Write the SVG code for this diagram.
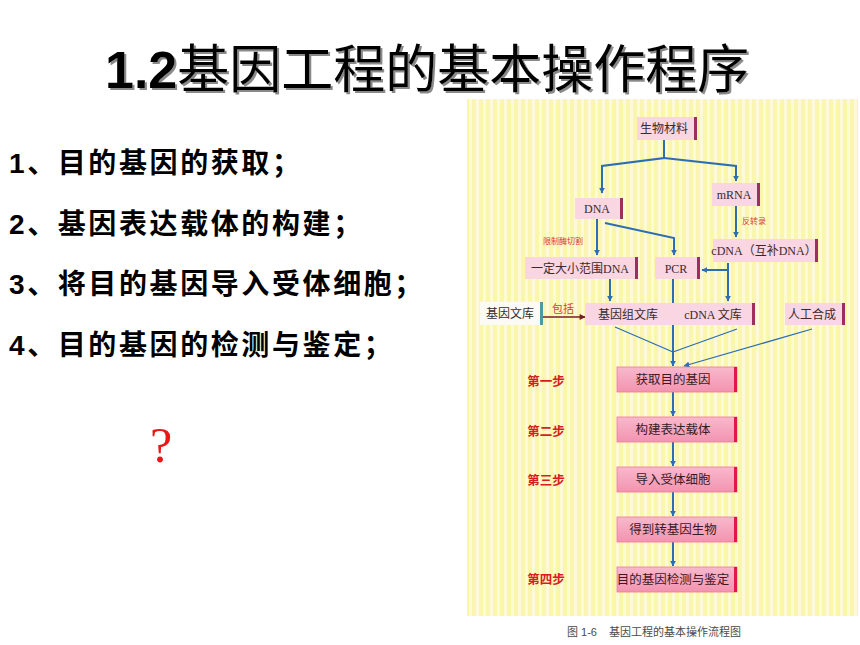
<svg xmlns="http://www.w3.org/2000/svg" width="860" height="645" viewBox="0 0 860 645">
<defs>
<pattern id="stripes" x="0" y="0" width="7" height="10" patternUnits="userSpaceOnUse">
<rect width="7" height="10" fill="#fbf6ad"/>
<rect x="0" width="3" height="10" fill="#fdfad6"/>
</pattern>
<linearGradient id="stepg" x1="0" y1="0" x2="0" y2="1">
<stop offset="0" stop-color="#f8b9cc"/>
<stop offset="1" stop-color="#f393b0"/>
</linearGradient>
<filter id="shadow" x="-5%" y="-20%" width="110%" height="140%">
<feDropShadow dx="2" dy="2" stdDeviation="0.6" flood-color="#8a8a8a" flood-opacity="1"/>
</filter>
<marker id="ab" viewBox="0 0 10 10" refX="9" refY="5" markerWidth="6" markerHeight="6" orient="auto" markerUnits="userSpaceOnUse">
<path d="M0,0 L10,5 L0,10 Z" fill="#2d6db4"/>
</marker>
<marker id="ar" viewBox="0 0 10 10" refX="9" refY="5" markerWidth="7" markerHeight="6" orient="auto" markerUnits="userSpaceOnUse">
<path d="M0,0 L10,5 L0,10 Z" fill="#7a1c22"/>
</marker>
</defs>
<style>
.title{font-family:"Liberation Sans","Noto Sans CJK SC",sans-serif;font-size:52px;fill:#000}
.item{font-family:"Liberation Sans","Noto Sans CJK SC",sans-serif;font-size:28px;font-weight:bold;fill:#000;letter-spacing:2.6px}
.q{font-family:"Liberation Serif",serif;font-size:50px;fill:#e81818}
.box{fill:#f9d6e1}
.bar{fill:#9c2f5e}
.step{fill:url(#stepg);stroke:#ee7a98;stroke-width:0.8}
.sbar{fill:#e3184a}
.bt{font-family:"Liberation Serif","Noto Sans CJK SC",serif;font-size:12px;fill:#3a2a2e;text-anchor:middle}
.st{font-family:"Liberation Serif","Noto Sans CJK SC",serif;font-size:12.5px;fill:#3a1a22;text-anchor:middle}
.lab{font-family:"Noto Sans CJK SC",sans-serif;font-size:12.5px;font-weight:bold;fill:#d91c22;text-anchor:middle}
.red{font-family:"Noto Sans CJK SC",sans-serif;fill:#e0383a}
.ln{fill:none;stroke:#2d6db4;stroke-width:2}
.thin{fill:none;stroke:#2d6db4;stroke-width:1.3}
.cap{font-family:"Liberation Sans","Noto Sans CJK SC",sans-serif;font-size:11px;fill:#4a4a4a}
</style>
<rect width="860" height="645" fill="#fff"/>

<g id="title">
<text class="title" x="105" y="88" filter="url(#shadow)"><tspan font-weight="bold">1.2</tspan>基因工程的基本操作程序</text>
</g>

<g id="list">
<text class="item" x="9" y="173">1、目的基因的获取；</text>
<text class="item" x="9" y="234">2、基因表达载体的构建；</text>
<text class="item" x="9" y="294">3、将目的基因导入受体细胞；</text>
<text class="item" x="9" y="355">4、目的基因的检测与鉴定；</text>
</g>

<g id="question"><text class="q" x="150" y="462">?</text></g>

<g id="panel">
<rect x="467" y="99" width="391" height="517" fill="url(#stripes)"/>
</g>

<g id="connectors">
<polyline class="ln" points="664,140 664,158 602,166 602,193" marker-end="url(#ab)"/>
<polyline class="ln" points="664,158 736,166 736,181" marker-end="url(#ab)"/>
<line class="ln" x1="597" y1="219" x2="597" y2="255" marker-end="url(#ab)"/>
<polyline class="ln" points="605,223 674,238 674,255" marker-end="url(#ab)"/>
<line class="ln" x1="736" y1="206" x2="736" y2="237" marker-end="url(#ab)"/>
<line class="ln" x1="728" y1="263" x2="728" y2="301" marker-end="url(#ab)"/>
<line class="ln" x1="728" y1="270" x2="702" y2="270" marker-end="url(#ab)"/>
<line class="ln" x1="610" y1="279" x2="610" y2="301" marker-end="url(#ab)"/>
<line x1="543" y1="317" x2="585" y2="317" stroke="#7a1c22" stroke-width="1.6" marker-end="url(#ar)"/>
<line class="ln" x1="673" y1="279" x2="673" y2="366" marker-end="url(#ab)"/>
<line class="thin" x1="615" y1="327" x2="673" y2="352"/>
<line class="thin" x1="737" y1="329" x2="673" y2="352"/>
<line class="thin" x1="812" y1="329" x2="684" y2="366" marker-end="url(#ab)"/>
<line class="ln" x1="673" y1="392" x2="673" y2="416" marker-end="url(#ab)"/>
<line class="ln" x1="673" y1="442" x2="673" y2="466" marker-end="url(#ab)"/>
<line class="ln" x1="673" y1="492" x2="673" y2="516" marker-end="url(#ab)"/>
<line class="ln" x1="673" y1="542" x2="673" y2="566" marker-end="url(#ab)"/>
<text class="red" x="543" y="244" font-size="8">限制酶切割</text>
<text class="red" x="742" y="224" font-size="8">反转录</text>
<text class="red" x="552" y="313" font-size="11">包括</text>
</g>

<g id="n-material"><rect class="box" x="637" y="117" width="60" height="23"/><rect class="bar" x="694" y="117" width="3" height="23"/><text class="bt" x="664" y="133">生物材料</text></g>
<g id="n-dna"><rect class="box" x="575" y="198" width="48" height="21"/><rect class="bar" x="620" y="198" width="3" height="21"/><text class="bt" x="597" y="213">DNA</text></g>
<g id="n-mrna"><rect class="box" x="712" y="183" width="48" height="23"/><rect class="bar" x="757" y="183" width="3" height="23"/><text class="bt" x="734" y="199">mRNA</text></g>
<g id="n-cdna"><rect class="box" x="713" y="239" width="105" height="23"/><rect class="bar" x="815" y="239" width="3" height="23"/><text class="bt" x="764" y="255">cDNA（互补DNA）</text></g>
<g id="n-fragment"><rect class="box" x="525" y="257" width="113" height="22"/><rect class="bar" x="635" y="257" width="3" height="22"/><text class="bt" x="580" y="273">一定大小范围DNA</text></g>
<g id="n-pcr"><rect class="box" x="655" y="257" width="45" height="22"/><rect class="bar" x="697" y="257" width="3" height="22"/><text class="bt" x="676" y="273">PCR</text></g>
<g id="n-library"><rect x="480" y="302" width="63" height="23" fill="#fbfbf3"/><rect x="540" y="302" width="3" height="23" fill="#4f9a9a"/><text class="bt" x="510" y="318">基因文库</text></g>
<g id="n-genomic"><rect class="box" x="585" y="303" width="86" height="22"/><text class="bt" x="628" y="319">基因组文库</text></g>
<g id="n-cdnalib"><rect class="box" x="671" y="303" width="84" height="22"/><rect class="bar" x="752" y="303" width="3" height="22"/><text class="bt" x="713" y="319">cDNA 文库</text></g>
<g id="n-synth"><rect class="box" x="785" y="303" width="60" height="22"/><rect class="bar" x="842" y="303" width="3" height="22"/><text class="bt" x="812" y="319">人工合成</text></g>

<g id="n-step1"><rect class="step" x="617" y="367" width="120" height="25"/><rect class="sbar" x="734" y="367" width="3" height="25"/><text class="st" x="673" y="384">获取目的基因</text></g>
<g id="n-step2"><rect class="step" x="617" y="417" width="120" height="25"/><rect class="sbar" x="734" y="417" width="3" height="25"/><text class="st" x="673" y="434">构建表达载体</text></g>
<g id="n-step3"><rect class="step" x="617" y="467" width="120" height="25"/><rect class="sbar" x="734" y="467" width="3" height="25"/><text class="st" x="673" y="484">导入受体细胞</text></g>
<g id="n-step4"><rect class="step" x="617" y="517" width="120" height="25"/><rect class="sbar" x="734" y="517" width="3" height="25"/><text class="st" x="673" y="534">得到转基因生物</text></g>
<g id="n-step5"><rect class="step" x="617" y="567" width="120" height="25"/><rect class="sbar" x="734" y="567" width="3" height="25"/><text class="st" x="673" y="584">目的基因检测与鉴定</text></g>

<g id="step-labels">
<text class="lab" x="546" y="386">第一步</text>
<text class="lab" x="546" y="436">第二步</text>
<text class="lab" x="546" y="485">第三步</text>
<text class="lab" x="546" y="584">第四步</text>
</g>

<g id="caption"><text class="cap" x="567" y="636">图 1-6<tspan dx="12">基因工程的基本操作流程图</tspan></text></g>
</svg>
